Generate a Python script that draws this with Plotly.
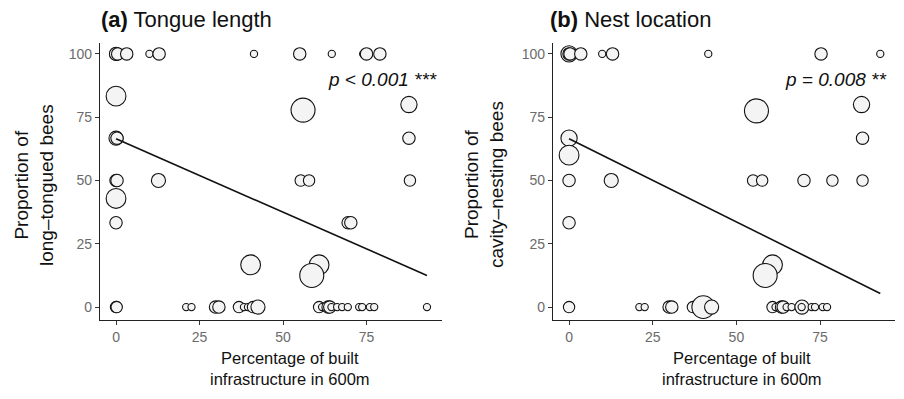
import numpy as np
import plotly.graph_objects as go

# ---------------- data ----------------
# Panel (a): proportion of long-tongued bees
a_x = [0, 0, 0.5, 3.2, 10, 12.9, 41.3, 55, 64.6, 74, 75, 79,
       0, 56, 87.7, 0, 0.3, 87.7,
       0, 0.3, 12.7, 55.3, 57.8, 88,
       0, 0, 69.5, 70.3,
       40.3, 60.8, 58.6,
       0, 0.2, 21, 22.6, 29.8, 30.8, 36.8, 38.3, 39.5, 41, 42.5,
       60.8, 61.7, 63.5, 64, 64.5, 66.2, 67.7, 69.4, 72.8, 73.7, 76, 77.3, 93.1]
a_y = [100, 100, 100, 100, 100, 100, 100, 100, 100, 100, 100, 100,
       83.3, 77.8, 80, 66.7, 66.7, 66.7,
       50, 50, 50, 50, 50, 50,
       42.9, 33.3, 33.3, 33.3,
       16.7, 16.7, 12.5,
       0, 0, 0, 0, 0, 0, 0, 0, 0, 0, 0,
       0, 0, 0, 0, 0, 0, 0, 0, 0, 0, 0, 0, 0]
a_n = [5, 6, 5, 5, 1, 5, 1, 5, 1, 1, 5, 5,
       16, 25, 10, 7, 5, 5,
       5, 5, 7, 4, 4, 4,
       16, 5, 5, 5,
       16, 16, 25,
       4, 4, 1, 1, 5, 5, 4, 1, 1, 4, 7,
       4, 1, 5, 5, 1, 1, 1, 1, 1, 1, 1, 1, 1]
a_fit = {"intercept": 66.5, "slope": -0.58}
a_title = "<b>(a)</b> Tongue length"
a_ylab = "Proportion of<br>long\u2013tongued bees"
a_p = "<i>p &lt; 0.001 ***</i>"

# Panel (b): proportion of cavity-nesting bees
b_x = [0, 0, 0.3, 3.5, 9.9, 13, 41.6, 75.3, 93,
       56, 87.4, 0, 87.7, 0,
       0, 12.6, 55, 57.7, 70.2, 78.7, 87.7,
       0,
       60.8, 58.6,
       0, 21, 22.6, 29.9, 30.7, 37, 40.1, 42.6,
       60.8, 61.7, 63.5, 64, 65, 66.5, 69.6, 69.5, 72.5, 73.5, 75.8, 77.1]
b_y = [100, 100, 100, 100, 100, 100, 100, 100, 100,
       77.5, 80, 66.7, 66.7, 60,
       50, 50, 50, 50, 50, 50, 50,
       33.3,
       16.7, 12.5,
       0, 0, 0, 0, 0, 0, 0, 0,
       0, 0, 0, 0, 0, 0, 0, 0, 0, 0, 0, 0]
b_n = [10, 5, 5, 5, 1, 5, 1, 5, 1,
       25, 10, 10, 5, 16,
       5, 7, 4, 4, 5, 4, 4,
       5,
       16, 25,
       4, 1, 1, 5, 5, 4, 22, 7,
       4, 1, 5, 5, 1, 1, 7, 1, 1, 1, 1, 1]
b_fit = {"intercept": 66.5, "slope": -0.657}
b_title = "<b>(b)</b> Nest location"
b_ylab = "Proportion of<br>cavity\u2013nesting bees"
b_p = "<i>p = 0.008 **</i>"

x_label = "Percentage of built<br>infrastructure in 600m"
x_ticks = [0, 25, 50, 75]
y_ticks = [0, 25, 50, 75, 100]

# ---------------- figure ----------------
# page body has an 8px margin, so figure is placed 8px in from the window edge
OFF = 8
W, H = 904 - OFF, 399 - OFF
FONT = "Liberation Sans, Arial, Helvetica, sans-serif"


def diam(n):
    return [3 + 4.2 * np.sqrt(v) for v in n]


fig = go.Figure()
panels = [
    (a_x, a_y, a_n, a_fit, "x", "y"),
    (b_x, b_y, b_n, b_fit, "x2", "y2"),
]
for xs, ys, ns, fit, xa, ya in panels:
    xl = np.array([min(xs), max(xs)])
    yl = fit["intercept"] + fit["slope"] * xl
    fig.add_trace(go.Scatter(
        x=xs, y=ys, mode="markers", xaxis=xa, yaxis=ya, cliponaxis=False,
        marker=dict(size=diam(ns), color="#f4f4f4", opacity=1,
                    line=dict(color="#111111", width=1.1)),
        showlegend=False, hoverinfo="skip"))
    fig.add_trace(go.Scatter(
        x=xl, y=yl, mode="lines", xaxis=xa, yaxis=ya,
        line=dict(color="#111111", width=1.6),
        showlegend=False, hoverinfo="skip"))

axis_common = dict(
    showgrid=False, zeroline=False, showline=True, linecolor="#222222",
    linewidth=1.3, ticks="outside", ticklen=4, tickcolor="#333333",
    tickwidth=1, tickfont=dict(family=FONT, size=14, color="#6b6b6b"),
)

px = lambda v: (v - OFF) / W
py = lambda v: (H - (v - OFF)) / H

fig.update_layout(
    width=W, height=H, margin=dict(l=0, r=0, t=0, b=0),
    paper_bgcolor="white", plot_bgcolor="white",
    font=dict(family=FONT),
    xaxis=dict(domain=[px(100), px(442)], range=[-4.8, 97.6],
               tickvals=x_ticks, anchor="y", **axis_common),
    yaxis=dict(domain=[py(320), py(43)], range=[-5.1, 104.3],
               tickvals=y_ticks, anchor="x", **axis_common),
    xaxis2=dict(domain=[px(553), px(895)], range=[-4.8, 97.4],
                tickvals=x_ticks, anchor="y2", **axis_common),
    yaxis2=dict(domain=[py(320), py(43)], range=[-5.1, 104.3],
                tickvals=y_ticks, anchor="x2", **axis_common),
)

ann = []
for title, ylab, ptxt, tx, ycx, xcx, pright in [
    (a_title, a_ylab, a_p, 99, 34, 290, 439),
    (b_title, b_ylab, b_p, 548, 484, 742, 888),
]:
    ann.append(dict(text=title, x=px(tx), y=py(19), xref="paper", yref="paper",
                    xanchor="left", yanchor="middle", showarrow=False,
                    font=dict(family=FONT, size=22, color="#111111")))
    ann.append(dict(text=ylab, x=px(ycx), y=py(185), xref="paper", yref="paper",
                    xanchor="center", yanchor="middle", showarrow=False,
                    textangle=-90,
                    font=dict(family=FONT, size=19, color="#111111")))
    ann.append(dict(text=x_label, x=px(xcx), y=py(368), xref="paper", yref="paper",
                    xanchor="center", yanchor="middle", showarrow=False,
                    font=dict(family=FONT, size=16.5, color="#111111")))
    ann.append(dict(text=ptxt, x=px(pright), y=py(80), xref="paper", yref="paper",
                    xanchor="right", yanchor="middle", showarrow=False,
                    font=dict(family=FONT, size=19, color="#111111")))
fig.update_layout(annotations=ann)

fig.write_html("out.html")
